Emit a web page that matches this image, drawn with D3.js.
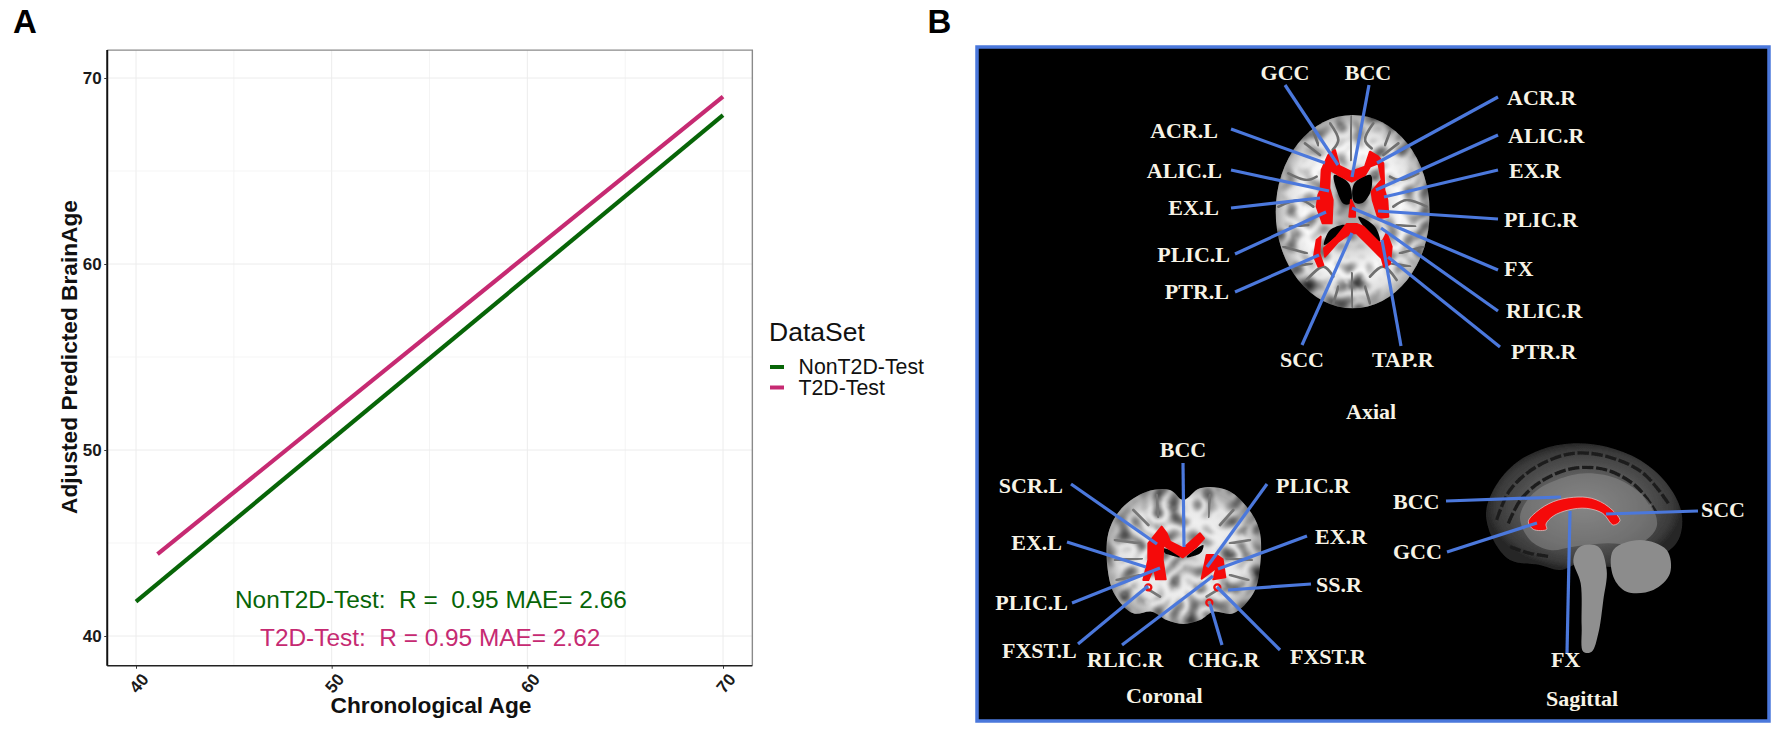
<!DOCTYPE html>
<html>
<head>
<meta charset="utf-8">
<script src="https://cdn.jsdelivr.net/npm/d3@7"></script>
<style>
  html, body { margin: 0; padding: 0; background: #fff; }
  svg { display: block; }
  text { font-family: "Liberation Sans", Arial, sans-serif; }
  .region { font-family: "Liberation Serif", "Times New Roman", serif; font-weight: bold; fill: #f7f3e6; font-size: 22px; }
</style>
</head>
<body>
<svg id="chart" width="1780" height="733"></svg>
<script>
// panel A values
const xTicks = [40, 50, 60, 70];
const yTicks = [40, 50, 60, 70];
const xMinor = [45, 55, 65];
const yMinor = [45, 55, 65];
const seriesNames = ['NonT2D-Test', 'T2D-Test'];
const nonT2DAge = [40, 70];
const nonT2DBrainAge = [41.85, 68.0];
const t2dAge = [41.1, 70];
const t2dBrainAge = [44.4, 69.0];
const statLines = ['NonT2D-Test:  R =  0.95 MAE= 2.66', 'T2D-Test:  R = 0.95 MAE= 2.62'];

// panel B names
const axialNames = ['GCC', 'BCC', 'ACR.L', 'ALIC.L', 'EX.L', 'PLIC.L', 'PTR.L', 'SCC', 'TAP.R',
    'ACR.R', 'ALIC.R', 'EX.R', 'PLIC.R', 'FX', 'RLIC.R', 'PTR.R'];
const coronalNames = ['BCC', 'SCR.L', 'EX.L', 'PLIC.L', 'FXST.L', 'RLIC.R', 'CHG.R', 'FXST.R', 'SS.R', 'EX.R', 'PLIC.R'];
const sagittalNames = ['BCC', 'GCC', 'SCC', 'FX'];
const viewNames = ['Axial', 'Coronal', 'Sagittal'];

// where each name sits: text x, text y, anchor, leader x1, y1, x2, y2
const axialLayout = [
    [1285, 80, 'middle', 1285, 85, 1338, 165],
    [1368, 80, 'middle', 1369, 85, 1352, 177],
    [1218, 138, 'end', 1231, 129, 1325, 163],
    [1222, 178, 'end', 1231, 170, 1329, 191],
    [1219, 215, 'end', 1231, 208, 1320, 198],
    [1230, 262, 'end', 1235, 254, 1326, 212],
    [1229, 299, 'end', 1235, 292, 1319, 255],
    [1302, 367, 'middle', 1302, 345, 1352, 233],
    [1372, 367, 'start', 1401, 346, 1382, 240],
    [1507, 105, 'start', 1498, 97, 1377, 163],
    [1508, 143, 'start', 1498, 135, 1376, 190],
    [1509, 178, 'start', 1498, 170, 1384, 197],
    [1504, 227, 'start', 1498, 219, 1378, 211],
    [1504, 276, 'start', 1498, 270, 1352, 208],
    [1506, 318, 'start', 1498, 311, 1381, 228],
    [1511, 359, 'start', 1500, 347, 1388, 257]
];
const coronalLayout = [
    [1183, 457, 'middle', 1183, 463, 1184, 547],
    [1063, 493, 'end', 1071, 484, 1157, 544],
    [1062, 550, 'end', 1067, 542, 1146, 567],
    [1068, 610, 'end', 1072, 603, 1160, 568],
    [1002, 658, 'start', 1078, 644, 1148, 586],
    [1087, 667, 'start', 1122, 645, 1213, 576],
    [1188, 667, 'start', 1222, 645, 1210, 604],
    [1290, 664, 'start', 1280, 650, 1217, 587],
    [1316, 592, 'start', 1311, 584, 1228, 590],
    [1315, 544, 'start', 1307, 536, 1218, 569],
    [1276, 493, 'start', 1267, 484, 1207, 567]
];
const sagittalLayout = [
    [1393, 509, 'start', 1446, 501, 1561, 497],
    [1393, 559, 'start', 1447, 552, 1537, 523],
    [1701, 517, 'start', 1698, 511, 1606, 514],
    [1551, 667, 'start', 1567, 653, 1570, 511]
];
const viewLayout = [[1346, 419], [1126, 703], [1546, 706]];

// brain outlines, traced in the crop units of each view
const axialFront = [[235,285],[255,270],[268,318],[303,335],[345,320],[360,275],[385,290],[400,310],[403,390],[412,420],[415,470],[385,475],[368,420],[365,395],[395,360],[385,310],[360,320],[345,345],[305,365],[265,345],[240,330],[238,385],[248,420],[245,490],[218,490],[200,440],[205,405],[212,390],[215,330]];
const axialRear = [[225,590],[265,545],[300,520],[320,520],[360,560],[395,595],[402,620],[420,612],[425,560],[410,520],[397,545],[390,550],[340,500],[320,492],[290,492],[260,530],[222,565]];
const axialRearLeft = [[200,540],[212,530],[208,580],[220,615],[205,620],[192,590]];
const axialFornix = [[303,420],[315,445],[315,470],[298,470]];
const axialVentFront = [[252,345],[298,372],[302,430],[282,432],[262,395]];
const axialVentFrontR = [[362,345],[312,372],[312,425],[335,430],[362,395]];
const axialVentRearL = [[222,555],[240,510],[285,495],[262,528]];
const axialVentRearR = [[390,545],[375,500],[325,470],[345,505]];
const axialSulci = [
    [[305,170],[302,300]], [[305,640],[308,740]], [[240,190],[265,240],[248,270]], [[370,190],[345,240],[365,265]],
    [[165,250],[210,285]], [[445,250],[400,285]], [[115,340],[170,360],[200,350]], [[505,340],[450,360],[420,350]],
    [[85,440],[150,420],[190,440]], [[530,440],[470,420],[430,440]], [[100,560],[170,580]], [[520,560],[450,580]],
    [[170,660],[220,620],[250,650]], [[440,660],[400,620],[360,650]], [[250,730],[265,680]], [[360,730],[345,680]],
    [[190,215],[205,255]], [[420,215],[405,255]], [[120,500],[175,495]], [[495,500],[440,495]], [[130,620],[185,610]], [[480,620],[425,610]]
];
const coronalHull = [[550,60],[600,25],[680,30],[740,80],[778,150],[780,260],[760,340],[700,400],[640,395],[600,420],[550,432],[500,420],[455,395],[400,400],[345,345],[322,260],[325,160],[365,85],[440,35],[510,30]];
const coronalRedLeft = [[445,190],[485,140],[500,160],[510,185],[550,205],[600,160],[612,175],[590,200],[548,232],[510,208],[490,195],[488,240],[497,298],[468,298],[462,260],[445,300],[430,300],[445,240]];
const coronalRedRight = [[620,225],[650,225],[668,238],[676,292],[640,298],[650,262],[605,296]];
const coronalVentL = [[490,205],[530,220],[540,232],[510,225],[495,220]];
const coronalVentR = [[610,195],[570,220],[560,232],[590,225],[605,215]];
const coronalSulci = [[[550,30],[550,180]], [[345,180],[420,190]], [[345,240],[425,235]], [[350,300],[420,285]], [[400,90],[445,135]], [[470,45],[475,110]], [[750,180],[690,190]], [[755,240],[680,235]], [[745,300],[690,285]], [[700,90],[660,135]], [[630,45],[625,110]], [[550,290],[550,350]], [[480,350],[440,325]], [[620,350],[660,325]]];
const coronalRings = [[445,322],[628,368],[652,322]];
const sagittalHull = [[498,430],[520,360],[580,285],[660,240],[760,220],[860,230],[960,270],[1040,340],[1085,430],[1075,510],[1020,560],[930,590],[860,590],[790,575],[720,600],[660,585],[570,570],[520,510]];
const sagittalInner = [[600,440],[640,370],[710,330],[800,310],[900,330],[990,400],[1010,470],[960,520],[860,520],[760,530],[690,540],[630,510]];
const sagittalFolds = [[[530,450],[570,360],[650,290],[760,250],[870,262],[970,310],[1045,400]], [[565,460],[605,385],[670,330],[760,295],[860,300],[950,350],[1010,430]], [[570,530],[630,550],[690,560]]];
const sagittalRed = [[625,455],[650,425],[700,395],[760,382],[815,385],[865,410],[900,452],[880,465],[848,430],[800,415],[745,420],[700,438],[678,462],[680,478],[640,478]];
const sagittalStem = [[780,530],[835,530],[860,600],[850,690],[835,790],[815,845],[790,845],[785,770],[782,640],[760,570]];
const sagittalCerebellum = [[880,540],[960,510],[1040,540],[1050,610],[1000,660],[920,665],[880,620]];

const svg = d3.select('#chart');
const defs = svg.append('defs');

const xScale = d3.scaleLinear().domain([40, 70]).range([136, 723]);
const yScale = d3.scaleLinear().domain([40, 70]).range([636, 78]);
const colorScale = d3.scaleOrdinal().domain(seriesNames).range(['#076507', '#c62a72']);

const panelLeft = xScale(38.53), panelRight = xScale(71.5), panelTop = yScale(71.5), panelBottom = yScale(38.4);

// panel letters
svg.append('text').attr('x', 13).attr('y', 33).attr('font-size', 33).attr('font-weight', 'bold').text('A');
svg.append('text').attr('x', 927.5).attr('y', 33).attr('font-size', 33).attr('font-weight', 'bold').text('B');

// grid
const grid = svg.append('g');
grid.selectAll('.gx').data(xTicks).join('line')
    .attr('x1', xScale).attr('x2', xScale).attr('y1', panelTop).attr('y2', panelBottom)
    .attr('stroke', '#ececec').attr('stroke-width', 1);
grid.selectAll('.gxm').data(xMinor).join('line')
    .attr('x1', xScale).attr('x2', xScale).attr('y1', panelTop).attr('y2', panelBottom)
    .attr('stroke', '#f1f1f1').attr('stroke-width', 0.8);
grid.selectAll('.gy').data(yTicks).join('line')
    .attr('y1', yScale).attr('y2', yScale).attr('x1', panelLeft).attr('x2', panelRight)
    .attr('stroke', '#ececec').attr('stroke-width', 1);
grid.selectAll('.gym').data(yMinor).join('line')
    .attr('y1', yScale).attr('y2', yScale).attr('x1', panelLeft).attr('x2', panelRight)
    .attr('stroke', '#f3f3f3').attr('stroke-width', 0.8);

// trend lines
const trend = d3.line().x(d => xScale(d[0])).y(d => yScale(d[1]));
[[nonT2DAge, nonT2DBrainAge], [t2dAge, t2dBrainAge]].forEach(([ages, values], i) => {
    svg.append('path')
        .attr('d', trend(ages.map((a, k) => [a, values[k]])))
        .attr('fill', 'none')
        .attr('stroke', colorScale(seriesNames[i]))
        .attr('stroke-width', 4.2);
});

// frame and axes
svg.append('path')
    .attr('d', `M${panelLeft},${panelTop}H${panelRight}V${panelBottom}`)
    .attr('fill', 'none').attr('stroke', '#8a8a8a').attr('stroke-width', 1.4);

const xAxisG = svg.append('g').attr('transform', `translate(0,${panelBottom})`)
    .call(d3.axisBottom(xScale).tickValues(xTicks).tickSize(3).tickSizeOuter(0));
xAxisG.select('.domain').attr('d', `M${panelLeft},0H${panelRight}`).attr('stroke', '#222').attr('stroke-width', 1.4);
xAxisG.selectAll('.tick line').attr('stroke', '#333');
xAxisG.selectAll('.tick text')
    .attr('font-family', '"Liberation Sans", Arial, sans-serif')
    .attr('font-size', 17).attr('font-weight', 'bold').attr('fill', '#1a1a1a')
    .attr('text-anchor', 'end')
    .attr('dx', 0).attr('dy', 0).attr('y', 0).attr('x', 0)
    .attr('transform', 'translate(13,14) rotate(-50)');

const yAxisG = svg.append('g').attr('transform', `translate(${panelLeft},0)`)
    .call(d3.axisLeft(yScale).tickValues(yTicks).tickSize(3).tickSizeOuter(0));
yAxisG.select('.domain').attr('d', `M0,${panelTop}V${panelBottom}`).attr('stroke', '#111').attr('stroke-width', 2);
yAxisG.selectAll('.tick line').attr('stroke', '#333');
yAxisG.selectAll('.tick text')
    .attr('font-family', '"Liberation Sans", Arial, sans-serif')
    .attr('font-size', 17).attr('font-weight', 'bold').attr('fill', '#1a1a1a').attr('x', -5.5);

svg.append('text')
    .attr('transform', 'translate(77,357) rotate(-90)')
    .attr('text-anchor', 'middle').attr('font-size', 22.7).attr('font-weight', 'bold').attr('fill', '#111')
    .text('Adjusted Predicted BrainAge');
svg.append('text')
    .attr('x', 431).attr('y', 713)
    .attr('text-anchor', 'middle').attr('font-size', 22.7).attr('font-weight', 'bold').attr('fill', '#111')
    .text('Chronological Age');

// stats
svg.selectAll('.stat').data(statLines).join('text')
    .attr('class', 'stat')
    .attr('x', (d, i) => [235, 260][i])
    .attr('y', (d, i) => [608, 646][i])
    .attr('font-size', 24.4)
    .style('white-space', 'pre')
    .attr('fill', (d, i) => colorScale(seriesNames[i]))
    .text(d => d);

// legend
svg.append('text').attr('x', 769).attr('y', 341).attr('font-size', 26.5).attr('fill', '#111').text('DataSet');
const legend = svg.selectAll('.key').data(seriesNames).join('g').attr('class', 'key')
    .attr('transform', (d, i) => `translate(770,${[367, 387.5][i]})`);
legend.append('line').attr('x1', 0).attr('x2', 14)
    .attr('stroke', d => colorScale(d)).attr('stroke-width', 4);
legend.append('text').attr('x', 28.5).attr('y', 7).attr('font-size', 21.3).attr('fill', '#111').text(d => d);

// panel B background
svg.append('rect')
    .attr('x', 977).attr('y', 47).attr('width', 792).attr('height', 674)
    .attr('fill', '#000').attr('stroke', '#4b78dc').attr('stroke-width', 3.5);

defs.append('filter').attr('id', 'soft').append('feGaussianBlur').attr('stdDeviation', 1.5);
defs.append('filter').attr('id', 'softer').append('feGaussianBlur').attr('stdDeviation', 0.7);

// folded cortex look for the brain images
const gyri = defs.append('filter').attr('id', 'gyri')
    .attr('x', '0%').attr('y', '0%').attr('width', '100%').attr('height', '100%')
    .attr('color-interpolation-filters', 'sRGB');
gyri.append('feTurbulence').attr('type', 'turbulence').attr('baseFrequency', 0.02)
    .attr('numOctaves', 1).attr('seed', 7).attr('result', 'noise');
gyri.append('feColorMatrix').attr('in', 'noise').attr('type', 'matrix')
    .attr('values', '-1.5 0 0 0 1.12  -1.5 0 0 0 1.12  -1.5 0 0 0 1.12  0 0 0 0 1').attr('result', 'folds');
gyri.append('feGaussianBlur').attr('in', 'folds').attr('stdDeviation', 5).attr('result', 'foldsSoft');
gyri.append('feBlend').attr('in', 'SourceGraphic').attr('in2', 'foldsSoft').attr('mode', 'multiply').attr('result', 'mix');
gyri.append('feComposite').attr('in', 'mix').attr('in2', 'SourceAlpha').attr('operator', 'in');

function addGradient(id, stops) {
    const g = defs.append('radialGradient').attr('id', id);
    stops.forEach(([o, c]) => g.append('stop').attr('offset', o).attr('stop-color', c));
}
addGradient('axialFill', [['0%', '#9a9a9a'], ['35%', '#d0d0d0'], ['62%', '#fafafa'], ['85%', '#e0e0e0'], ['100%', '#a8a8a8']]);
addGradient('coronalFill', [['0%', '#d0d0d0'], ['50%', '#efefef'], ['82%', '#e4e4e4'], ['100%', '#aaaaaa']]);
addGradient('sagittalFill', [['0%', '#808080'], ['60%', '#565656'], ['90%', '#3a3a3a'], ['100%', '#262626']]);

const closed = d3.line().curve(d3.curveLinearClosed);
const smooth = d3.line().curve(d3.curveCatmullRomClosed);
const open = d3.line().curve(d3.curveCatmullRom);

// crop units -> page, same 3x crops the outlines were traced in
function brainGroup(originX, originY) {
    return svg.append('g').attr('transform', `translate(${originX},${originY}) scale(${1 / 3})`);
}

function drawShapes(g, shapes, gen, fill, filter) {
    return g.selectAll(null).data(shapes).join('path')
        .attr('d', d => gen(d)).attr('fill', fill)
        .attr('filter', filter || null);
}

// axial
const axial = brainGroup(1250, 60);
axial.append('ellipse').attr('cx', 308).attr('cy', 455).attr('rx', 231).attr('ry', 290)
    .attr('fill', 'url(#axialFill)').attr('filter', 'url(#gyri)');
axial.selectAll('.sulcus').data(axialSulci).join('path')
    .attr('d', d => open(d)).attr('fill', 'none').attr('stroke', '#707070').attr('stroke-width', 8)
    .attr('stroke-linecap', 'round').attr('filter', 'url(#soft)');
drawShapes(axial, [axialVentFront, axialVentFrontR, axialVentRearL, axialVentRearR], smooth, '#050505', 'url(#softer)');
drawShapes(axial, [axialFront, axialRear, axialRearLeft, axialFornix], closed, '#f50a0a')
    .attr('stroke', '#f50a0a').attr('stroke-width', 6).attr('stroke-linejoin', 'round');

// coronal
const coronal = brainGroup(1000, 480);
coronal.append('path').attr('d', smooth(coronalHull)).attr('fill', 'url(#coronalFill)').attr('filter', 'url(#gyri)');
coronal.selectAll('.sulcus').data(coronalSulci).join('path')
    .attr('d', d => open(d)).attr('fill', 'none').attr('stroke', '#777').attr('stroke-width', 8)
    .attr('stroke-linecap', 'round').attr('filter', 'url(#soft)');
drawShapes(coronal, [coronalVentL, coronalVentR], smooth, '#050505', 'url(#softer)');
drawShapes(coronal, [coronalRedLeft, coronalRedRight], closed, '#f50a0a')
    .attr('stroke', '#f50a0a').attr('stroke-width', 6).attr('stroke-linejoin', 'round');
coronal.selectAll('.ring').data(coronalRings).join('circle')
    .attr('cx', d => d[0]).attr('cy', d => d[1]).attr('r', 9)
    .attr('fill', 'none').attr('stroke', '#f01010').attr('stroke-width', 7);

// sagittal
const sagittal = brainGroup(1320, 370);
sagittal.append('path').attr('d', smooth(sagittalHull)).attr('fill', 'url(#sagittalFill)').attr('filter', 'url(#softer)');
sagittal.selectAll('.fold').data(sagittalFolds).join('path')
    .attr('d', d => open(d)).attr('fill', 'none').attr('stroke', '#1c1c1c').attr('stroke-width', 10)
    .attr('stroke-dasharray', '34 8').attr('filter', 'url(#softer)');
sagittal.append('path').attr('d', smooth(sagittalInner)).attr('fill', '#8a8a8a').attr('opacity', 0.55).attr('filter', 'url(#soft)');
drawShapes(sagittal, [sagittalStem], smooth, '#8f8f8f', 'url(#soft)');
drawShapes(sagittal, [sagittalCerebellum], smooth, '#8c8c8c', 'url(#soft)');
sagittal.append('path').attr('d', smooth(sagittalRed)).attr('fill', '#f50a0a').attr('stroke', '#e8d8d8').attr('stroke-width', 2);

// region labels and their leaders
function drawLabels(names, layout) {
    const rows = names.map((name, i) => ({ name, pos: layout[i] }));
    const g = svg.append('g');
    g.selectAll('line').data(rows).join('line')
        .attr('x1', d => d.pos[3]).attr('y1', d => d.pos[4])
        .attr('x2', d => d.pos[5]).attr('y2', d => d.pos[6])
        .attr('stroke', '#4b78dc').attr('stroke-width', 3.2);
    g.selectAll('text').data(rows).join('text')
        .attr('class', 'region')
        .attr('x', d => d.pos[0]).attr('y', d => d.pos[1])
        .attr('text-anchor', d => d.pos[2])
        .text(d => d.name);
}
drawLabels(axialNames, axialLayout);
drawLabels(coronalNames, coronalLayout);
drawLabels(sagittalNames, sagittalLayout);

svg.selectAll('.view').data(viewNames).join('text')
    .attr('class', 'region view')
    .attr('x', (d, i) => viewLayout[i][0])
    .attr('y', (d, i) => viewLayout[i][1])
    .text(d => d);
</script>
</body>
</html>
